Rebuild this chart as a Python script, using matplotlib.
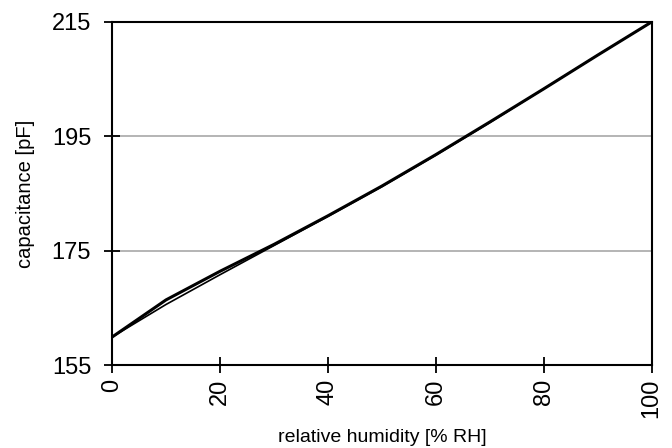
import matplotlib
matplotlib.use("Agg")
import matplotlib.pyplot as plt

plt.rcParams['font.family'] = ['Liberation Sans', 'DejaVu Sans']

# relative humidity [% RH]
rh = [0, 10, 20, 30, 40, 50, 60, 70, 80, 90, 100]
# capacitance [pF], two measured curves
cap_a = [159.9, 166.4, 171.4, 176.1, 181.1, 186.3, 191.8, 197.5, 203.3, 209.2, 215.0]
cap_b = [159.9, 165.6, 170.8, 175.9, 181.0, 186.2, 191.7, 197.4, 203.3, 209.2, 215.0]

xticks = [0, 20, 40, 60, 80, 100]
yticks = [155, 175, 195, 215]

fig = plt.figure(figsize=(6.72, 4.48), dpi=100)
ax = fig.add_axes([0.1667, 0.185, 0.803, 0.766])

for y in yticks[1:3]:
    ax.axhline(y, color='#a8a8a8', lw=1.2, zorder=1)

ax.plot(rh, cap_b, color='black', lw=1.2, zorder=3)
ax.plot(rh, cap_a, color='black', lw=2.2, zorder=3)

ax.set_xlim(0, 100)
ax.set_ylim(155, 215)
ax.set_xticks(xticks)
ax.set_yticks(yticks)
ax.tick_params(direction='inout', length=12, width=1.3, labelsize=17, pad=4)
ax.tick_params(axis='y', pad=9)
ax.tick_params(axis='x', labelrotation=90)
for s in ax.spines.values():
    s.set_linewidth(1.5)
    s.set_color('black')

ax.set_xlabel('relative humidity [% RH]', fontsize=14, labelpad=8)
ax.set_ylabel('capacitance [pF]', fontsize=14.5, labelpad=12)

fig.savefig('out.png', dpi=100)
